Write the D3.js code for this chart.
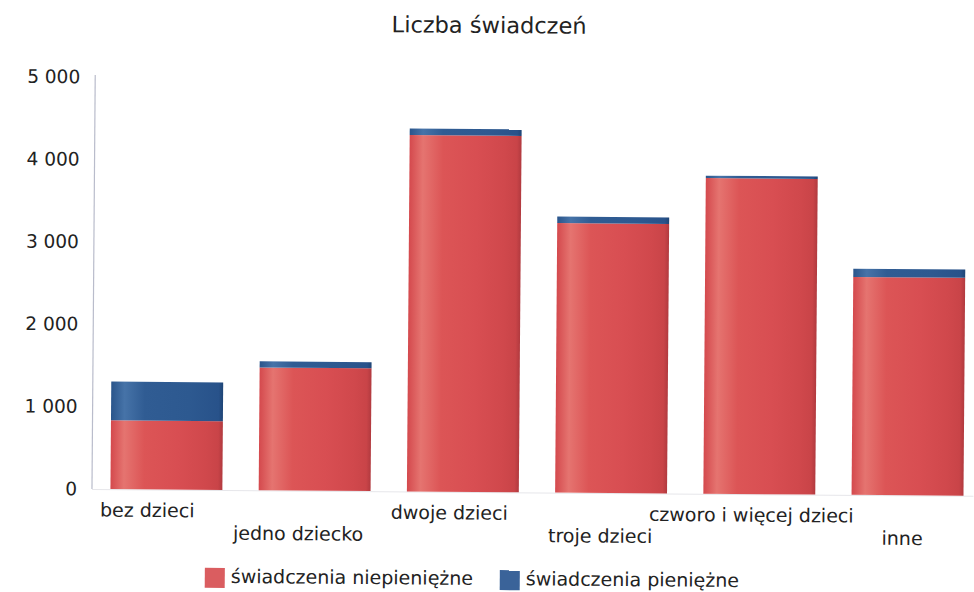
<!DOCTYPE html>
<html>
<head>
<meta charset="utf-8">
<script src="https://cdn.jsdelivr.net/npm/d3@7"></script>
<style>
  body { margin: 0; background: #fff; }
  svg { display: block; font-family: "DejaVu Sans", Verdana, sans-serif; }
</style>
</head>
<body>
<svg id="chart" width="974" height="592"></svg>
<script>
// dane
var categories = ["bez dzieci", "jedno dziecko", "dwoje dzieci", "troje dzieci", "czworo i więcej dzieci", "inne"];
var niepieniezne = [835, 1490, 4325, 3270, 3830, 2645];
var pieniezne = [470, 75, 80, 80, 30, 100];
var seriesNames = ["świadczenia niepieniężne", "świadczenia pieniężne"];
var yTicks = [0, 1000, 2000, 3000, 4000, 5000];

var width = 974, height = 592;
var svg = d3.select("#chart");

// skan jest lekko przekrzywiony
var g = svg.append("g").attr("transform", "rotate(0.45, 487, 296)");

var x = d3.scaleBand().domain(categories).range([93, 984]).paddingInner(0.245).paddingOuter(0.128);
var xLabel = d3.scalePoint().domain(categories).range([149, 904]);
var y = d3.scaleLinear().domain([0, 5000]).range([492, 80]);

var defs = svg.append("defs");
function gradient(id, stops) {
  var lg = defs.append("linearGradient").attr("id", id).attr("x1", "0%").attr("x2", "100%").attr("y1", "0%").attr("y2", "0%");
  stops.forEach(function(s) { lg.append("stop").attr("offset", s[0]).attr("stop-color", s[1]); });
}
gradient("gRed", [["0%", "#d4494d"], ["12%", "#e57470"], ["30%", "#dc5556"], ["60%", "#d84e52"], ["85%", "#d0484c"], ["96%", "#c94448"], ["100%", "#b13a3f"]]);
gradient("gBlue", [["0%", "#2a558b"], ["12%", "#4673a8"], ["30%", "#305c93"], ["70%", "#2d5990"], ["96%", "#28528a"], ["100%", "#1f4576"]]);

var colors = ["url(#gRed)", "url(#gBlue)"];
var legendColors = ["#da5d60", "#3a6399"];

var rows = categories.map(function(c, i) { return { cat: c, a: niepieniezne[i], b: pieniezne[i] }; });
var stacked = d3.stack().keys(["a", "b"])(rows);

// tytuł
g.append("text")
  .attr("x", 487).attr("y", 33)
  .attr("text-anchor", "middle")
  .style("font-size", "22.5px")
  .style("fill", "#222")
  .text("Liczba świadczeń");

// linia osi
g.append("line")
  .attr("x1", 93.5).attr("x2", 93.5)
  .attr("y1", y(5000) - 2).attr("y2", y(0))
  .attr("stroke", "#b9bccb").attr("stroke-width", 1.2);
g.append("line")
  .attr("x1", 93.5).attr("x2", 975)
  .attr("y1", y(0) + 0.5).attr("y2", y(0) + 0.5)
  .attr("stroke", "#e6e6ea").attr("stroke-width", 1);

// etykiety osi Y
g.selectAll(".ytick")
  .data(yTicks)
  .enter().append("text")
  .attr("class", "ytick")
  .attr("x", 78.5)
  .attr("y", function(d) { return y(d); })
  .attr("dy", "0.35em")
  .attr("text-anchor", "end")
  .style("font-size", "18.5px")
  .style("fill", "#222")
  .text(function(d) { return d3.format(",")(d).replace(/,/g, " "); });

// słupki
g.selectAll(".series")
  .data(stacked)
  .enter().append("g")
  .attr("class", "series")
  .attr("fill", function(d, i) { return colors[i]; })
  .selectAll("rect")
  .data(function(d) { return d; })
  .enter().append("rect")
  .attr("x", function(d) { return x(d.data.cat); })
  .attr("width", x.bandwidth())
  .attr("y", function(d) { return y(d[1]); })
  .attr("height", function(d) { return y(d[0]) - y(d[1]); });

// etykiety kategorii (na przemian w dwóch rzędach)
g.selectAll(".xlabel")
  .data(categories)
  .enter().append("text")
  .attr("class", "xlabel")
  .attr("x", function(d) { return xLabel(d); })
  .attr("y", function(d, i) { return i % 2 === 0 ? 519.6 : 541.7; })
  .attr("text-anchor", "middle")
  .style("font-size", "19px")
  .style("fill", "#222")
  .text(function(d) { return d; });

// legenda
var legendX = [207, 502];
var leg = g.selectAll(".legend")
  .data(seriesNames)
  .enter().append("g")
  .attr("class", "legend")
  .attr("transform", function(d, i) { return "translate(" + legendX[i] + ",570)"; });
leg.append("rect")
  .attr("width", 20).attr("height", 20)
  .attr("fill", function(d, i) { return legendColors[i]; });
leg.append("text")
  .attr("x", 26).attr("y", 15)
  .style("font-size", "19px")
  .style("fill", "#222")
  .text(function(d) { return d; });
</script>
</body>
</html>
